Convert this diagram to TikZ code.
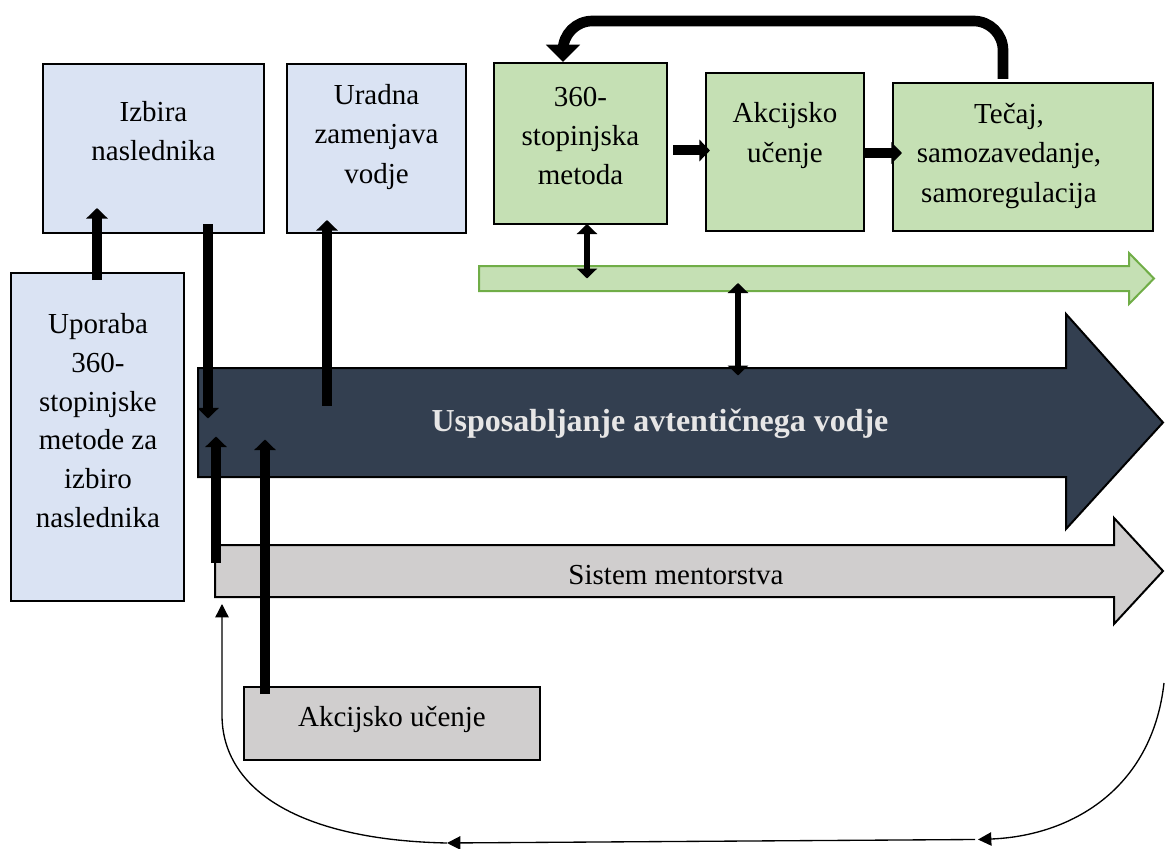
\documentclass[tikz,border=0pt]{standalone}
\usepackage{fontspec}
\setmainfont{Liberation Serif}
\usetikzlibrary{arrows.meta,fit,calc}
\definecolor{boxblue}{HTML}{DAE3F3}
\definecolor{boxgreen}{HTML}{C5E0B4}
\definecolor{edgegreen}{HTML}{70AD47}
\definecolor{navy}{HTML}{333F50}
\definecolor{boxgray}{HTML}{D0CECE}
\definecolor{lighttext}{HTML}{E7E6E6}

\begin{document}
\begin{tikzpicture}[x=0.75pt,y=-0.75pt,
  frame/.style={draw=black, line width=1.5pt, inner sep=0pt},
  bluebox/.style={frame, fill=boxblue},
  greenbox/.style={frame, fill=boxgreen},
  graybox/.style={frame, fill=boxgray},
  % multi-line labels are placed by the baseline of their last line
  lbl/.style={align=center, inner sep=0pt, anchor=base,
    font=\fontsize{21.75}{29.6}\selectfont},
  bigarrow/.style={line width=7.5pt, -{Triangle[width=16pt,length=8pt]}},
  looparrow/.style={line width=8pt, rounded corners=22pt,
    -{Triangle[width=25pt,length=13pt]}},
  dblarrow/.style={line width=5pt,
    {Triangle[width=15pt,length=7.5pt]}-{Triangle[width=15pt,length=7.5pt]}},
  thinarrow/.style={line width=1pt, -{Triangle[width=10pt,length=10pt]}},
]
\useasboundingbox (0,0) rectangle (1165,849);

% blue boxes
\node[bluebox, fit={(43,64) (264,233)}] (izbira) {};
\node[bluebox, fit={(287,64) (466,233)}] (uradna) {};
\node[bluebox, fit={(11,273) (184,601)}] (uporaba) {};

% green process boxes
\node[greenbox, fit={(494,63) (667,224)}] (m360) {};
\node[greenbox, fit={(706,73) (864,231)}] (akc) {};
\node[greenbox, fit={(893,83) (1153,231)}] (tecaj) {};

% block arrows
\path[draw=edgegreen, line width=1.5pt, fill=boxgreen]
  (479,266) -- (1129,266) -- (1129,253) -- (1154,278.5) -- (1129,304)
  -- (1129,291) -- (479,291) -- cycle;
\coordinate (greenL) at (479,278.5);

\path[draw=black, line width=1.5pt, fill=boxgray]
  (215,545) -- (1114,545) -- (1114,518) -- (1163,571) -- (1114,624)
  -- (1114,597) -- (215,597) -- cycle;
\coordinate (grayL) at (215,571);

\path[draw=black, line width=1.5pt, fill=navy]
  (198,368) -- (1066,368) -- (1066,314) -- (1163,422.5) -- (1066,529)
  -- (1066,477) -- (198,477) -- cycle;
\coordinate (darkL) at (198,422.5);

% bottom box
\node[graybox, fit={(244,687) (540,760)}] (akcB) {};

% labels
\node[lbl] (izbiraT) at (153.5,161) {Izbira\\naslednika};
\node[lbl] (uradnaT) at (376.5,183) {Uradna\\zamenjava\\vodje};
\node[lbl, font=\fontsize{21.75}{29}\selectfont] (uporabaT) at (98,527)
  {Uporaba\\360-\\stopinjske\\metode za\\izbiro\\naslednika};
\node[lbl] (m360T) at (580.5,185) {360-\\stopinjska\\metoda};
\node[lbl] (akcT) at (785,162) {Akcijsko\\učenje};
\node[lbl] (tecajT) at (1009,202) {Tečaj,\\samozavedanje,\\samoregulacija};
\node[lbl, text=lighttext, font=\fontsize{24}{29}\selectfont\bfseries] (darkT)
  at (660,431) {Usposabljanje avtentičnega vodje};
\node[lbl] (grayT) at (676,584) {Sistem mentorstva};
\node[lbl] (akcBT) at (392,726) {Akcijsko učenje};

% thick connectors
\draw[bigarrow] ($(uporaba.north)+(-0.5,8)$) -- ($(uporaba.north |- izbira.south)+(-0.5,-26)$);
\draw[bigarrow] ($(izbira.south)+(54.5,-10)$) -- ($(izbira.south |- darkL)+(54.5,-4)$);
\draw[bigarrow] ($(uradna.south |- darkL)+(-49.5,-17)$) -- ($(uradna.south)+(-49.5,-14)$);
\draw[bigarrow] ($(grayL)+(1,-8)$) -- ($(grayL |- darkL)+(1,14)$);
\draw[bigarrow] ($(akcB.north west)+(22,8)$) -- ($(akcB.north west |- darkL)+(22,17)$);
\draw[bigarrow] ($(m360.east)+(5,7)$) -- ($(m360.east -| akc.west)+(5,7)$);
\draw[bigarrow] ($(akc.east)+(-2,1)$) -- ($(akc.east -| tecaj.west)+(10,1)$);
\draw[looparrow] ($(tecaj.north)+(-20,-3)$) |- ($(m360.north)+(-17.5,-41)$)
  -- ($(m360.north)+(-17.5,0)$);

% double connectors
\draw[dblarrow] ($(m360.south)+(6.5,-1)$) -- ($(m360.south |- greenL)+(6.5,0)$);
\draw[dblarrow] ($(greenL)+(259,4.5)$) -- ($(greenL |- darkL)+(259,-47)$);

% thin return loop
\coordinate (loopR) at (1164,683);
\coordinate (loopB) at (978,839.5);
\coordinate (loopM) at (447,843);
\draw[thinarrow] (loopR) .. controls (1152,790) and (1070,836) .. (loopB);
\draw[thinarrow] ($(loopB)+(-3,0)$) -- (loopM);
\draw[thinarrow] (loopM) .. controls (300,840) and (222,790) .. (222,715)
  -- ($(grayL)+(7,33)$);
\end{tikzpicture}
\end{document}
